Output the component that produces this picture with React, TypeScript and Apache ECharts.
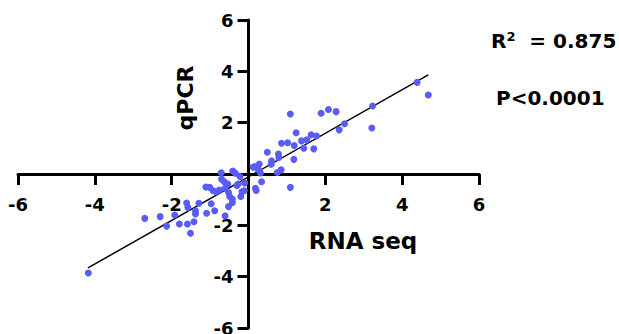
import React, { useEffect, useRef } from "react";
import * as echarts from "echarts";

const xTicks = [-6, -4, -2, 0, 2, 4, 6];
const yTicks = [-6, -4, -2, 0, 2, 4, 6];

const rnaSeq = [
  4.39, 4.68, 3.23, 3.21, 2.5, 2.36, 2.28, 2.08, 1.89, 1.09, 1.24, 1.63, 1.77, 1.52, 1.38, 1.44, 1.7, 1.19, 1.02, 0.86,
  1.18, 0.49, 0.78, 0.79, 0.6, 0.59, 0.85, 0.75, 1.09, 0.16, 0.28, 0.25, 0.31, 0.34, 0.18, 0.2, 0.12, 0.29,
  -4.17, -2.7, -2.3, -2.13, -1.92, -1.8, -1.61, -1.58, -1.59, -1.51, -1.42, -1.38, -1.38, -1.29, -1.09, -0.97, -0.88,
  -1.11, -1.01, -0.92, -0.84, -0.76, -0.71, -0.7, -0.63, -0.61, -0.54, -0.52, -0.49, -0.41, -0.42, -0.42, -0.52, -0.61,
  -0.34, -0.27, -0.22, -0.17, -0.2, -0.11, -0.3, -0.1,
];
const qPCR = [
  3.57, 3.08, 2.65, 1.79, 1.96, 1.72, 2.43, 2.51, 2.37, 2.34, 1.61, 1.53, 1.48, 1.33, 1.29, 1.0, 0.98, 1.11, 1.22, 1.2,
  0.57, 0.85, 0.78, 0.64, 0.51, 0.38, 0.16, 0.06, -0.52, 0.29, 0.39, 0.18, 0.04, -0.3, -0.56, -0.64, 0.26, 0.13,
  -3.86, -1.73, -1.66, -2.03, -1.6, -1.95, -1.13, -1.3, -1.95, -2.31, -1.86, -1.43, -1.56, -1.14, -1.53, -1.16, -1.43,
  -0.51, -0.52, -0.65, -0.69, -0.62, 0.05, -0.2, -0.3, -0.56, -0.39, -0.72, -0.88, 0.12, -0.98, -1.12, -1.27, -1.63,
  0.03, -0.39, -0.1, -0.69, -0.88, -0.65, -0.45, -0.35,
];

const fitX = [-4.18, 4.68];
const fitY = [-3.66, 3.86];

const xName = "RNA seq";
const yName = "qPCR";
const r2Text = "0.875";
const pText = "P<0.0001";

const FONT = "DejaVu Sans, Liberation Sans, Arial, sans-serif";

const W = 619;
const H = 334;
const G = { left: 18, right: 140, top: 20, bottom: 6 };

export default function App() {
  const ref = useRef<HTMLDivElement>(null);
  useEffect(() => {
    document.body.style.margin = "0";
    const chart = echarts.init(ref.current!, null, { renderer: "svg" });
    const points = rnaSeq.map((x, i) => [x, qPCR[i]]);
    const fit = fitX.map((x, i) => [x, fitY[i]]);
    const gw = W - G.left - G.right;
    const gh = H - G.top - G.bottom;
    const axisCommon = {
      type: "value" as const,
      min: -6,
      max: 6,
      interval: 2,
      splitLine: { show: false },
      axisLine: { show: true, onZero: false, lineStyle: { color: "#000", width: 3 } },
      axisTick: { show: true, length: 11, lineStyle: { color: "#000", width: 3 } },
    };
    const labelCommon = {
      color: "#000",
      fontSize: 18,
      fontWeight: "bold" as const,
      fontFamily: FONT,
      formatter: (v: number) => (v === 0 ? "" : String(v)),
    };
    chart.setOption({
      animation: false,
      backgroundColor: "#fff",
      grid: { ...G, containLabel: false, outerBoundsMode: "none" },
      xAxis: {
        ...axisCommon,
        position: "bottom",
        offset: -gh / 2,
        axisLabel: { ...labelCommon, margin: 21, customValues: xTicks },
      },
      yAxis: {
        ...axisCommon,
        position: "left",
        offset: -gw / 2,
        axisLabel: { ...labelCommon, margin: 15, customValues: yTicks },
      },
      series: [
        {
          type: "line",
          data: fit,
          showSymbol: false,
          symbol: "none",
          lineStyle: { color: "#000", width: 1.5 },
          z: 3,
        },
        {
          type: "scatter",
          data: points,
          symbolSize: 7,
          itemStyle: { color: "#5a5cf6", opacity: 1 },
          z: 4,
        },
      ],
      graphic: [
        {
          type: "text",
          x: 185,
          y: 98,
          rotation: Math.PI / 2,
          style: {
            text: yName,
            fontSize: 22,
            fontWeight: "bold",
            fontFamily: FONT,
            fill: "#000",
            align: "center",
            verticalAlign: "middle",
          },
        },
        {
          type: "text",
          x: 363,
          y: 241,
          style: {
            text: xName,
            fontSize: 23,
            fontWeight: "bold",
            fontFamily: FONT,
            fill: "#000",
            align: "center",
            verticalAlign: "middle",
          },
        },
        {
          type: "text",
          x: 491,
          y: 41,
          style: {
            text: "{a|R}{s|2}{a|  = " + r2Text + "}",
            fill: "#000",
            verticalAlign: "middle",
            rich: {
              a: { fontSize: 20, fontWeight: "bold", fontFamily: FONT, fill: "#000" },
              s: { fontSize: 13, fontWeight: "bold", fontFamily: FONT, fill: "#000", verticalAlign: "top", padding: [0, 0, 10, 0] },
            },
          },
        },
        {
          type: "text",
          x: 496,
          y: 98,
          style: {
            text: pText,
            fontSize: 20,
            fontWeight: "bold",
            fontFamily: FONT,
            fill: "#000",
            verticalAlign: "middle",
          },
        },
      ],
    });
    return () => chart.dispose();
  }, []);
  return <div ref={ref} style={{ position: "fixed", left: 0, top: 0, width: W, height: H }} />;
}
